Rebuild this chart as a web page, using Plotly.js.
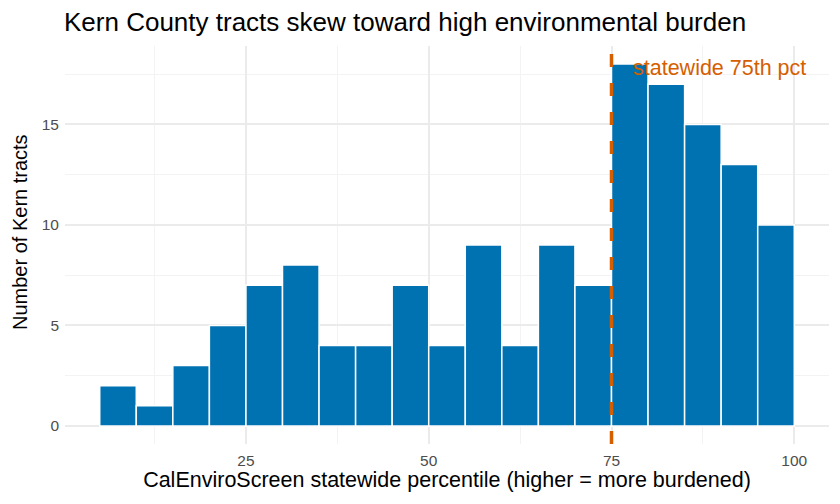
<!DOCTYPE html>
<html>
<head>
<meta charset="utf-8">
<script src="https://cdn.plot.ly/plotly-3.0.1.min.js"></script>
<style>
  html, body { margin: 0; padding: 0; background: #fff; }
  #chart { width: 840px; height: 504px; }
</style>
</head>
<body>
<div id="chart"></div>
<script>
// histogram bins (width 5) of CalEnviroScreen percentile for Kern tracts
const binCenters = [7.5, 12.5, 17.5, 22.5, 27.5, 32.5, 37.5, 42.5, 47.5, 52.5,
                    57.5, 62.5, 67.5, 72.5, 77.5, 82.5, 87.5, 92.5, 97.5];
const tractCounts = [2, 1, 3, 5, 7, 8, 4, 4, 7, 4, 9, 4, 9, 7, 18, 17, 15, 13, 10];
const xTicks = [25, 50, 75, 100];
const yTicks = [0, 5, 10, 15];
const cutoff = 75;

const font = 'Liberation Sans, Arial, sans-serif';
const orange = '#D55E00';

const data = [{
    type: 'bar',
    x: binCenters,
    y: tractCounts,
    width: 5,
    marker: { color: '#0072B2', line: { color: '#ffffff', width: 1.5 } },
    hoverinfo: 'x+y'
}];

const layout = {
    width: 840,
    height: 504,
    margin: { l: 65, r: 11, t: 46, b: 60 },
    paper_bgcolor: '#ffffff',
    plot_bgcolor: '#ffffff',
    showlegend: false,
    font: { family: font },
    title: {
        text: 'Kern County tracts skew toward high environmental burden',
        x: 64 / 840, xanchor: 'left', xref: 'container',
        y: 1 - 22 / 504, yanchor: 'middle', yref: 'container',
        font: { size: 26, color: '#000000', family: font }
    },
    xaxis: {
        range: [0.25, 104.75],
        tickvals: xTicks,
        ticks: '',
        ticklabelstandoff: 5,
        tickfont: { size: 15.5, color: '#4D4D4D' },
        showgrid: true, gridcolor: '#EBEBEB', gridwidth: 2,
        minor: { tickvals: [12.5, 37.5, 62.5, 87.5], showgrid: true, gridcolor: '#F3F3F3', gridwidth: 1 },
        zeroline: false, showline: false,
        title: {
            text: 'CalEnviroScreen statewide percentile (higher = more burdened)',
            font: { size: 21.5, color: '#000000' },
            standoff: 4
        }
    },
    yaxis: {
        range: [-0.9, 18.9],
        tickvals: yTicks,
        ticks: '',
        ticklabelstandoff: 5,
        tickfont: { size: 15.5, color: '#4D4D4D' },
        showgrid: true, gridcolor: '#EBEBEB', gridwidth: 2,
        minor: { tickvals: [2.5, 7.5, 12.5, 17.5], showgrid: true, gridcolor: '#F3F3F3', gridwidth: 1 },
        zeroline: false, showline: false
    },
    shapes: [{
        type: 'line', xref: 'x', yref: 'paper',
        x0: cutoff, x1: cutoff, y0: 0, y1: 1,
        line: { color: orange, width: 3.5, dash: '13px,16px' }
    }],
    annotations: [{
        x: 77.6, y: 17.8, xref: 'x', yref: 'y',
        xanchor: 'left', yanchor: 'middle',
        text: 'statewide 75th pct', showarrow: false,
        font: { size: 21.5, color: orange, family: font }
    }, {
        // y axis title, placed as in the reference
        x: (20 - 65) / 764, y: (444 - 232) / 398, xref: 'paper', yref: 'paper',
        xanchor: 'center', yanchor: 'middle', textangle: -90,
        text: 'Number of Kern tracts', showarrow: false,
        font: { size: 20, color: '#000000', family: font }
    }]
};

Plotly.newPlot('chart', data, layout, { displayModeBar: false, staticPlot: true });
</script>
</body>
</html>
